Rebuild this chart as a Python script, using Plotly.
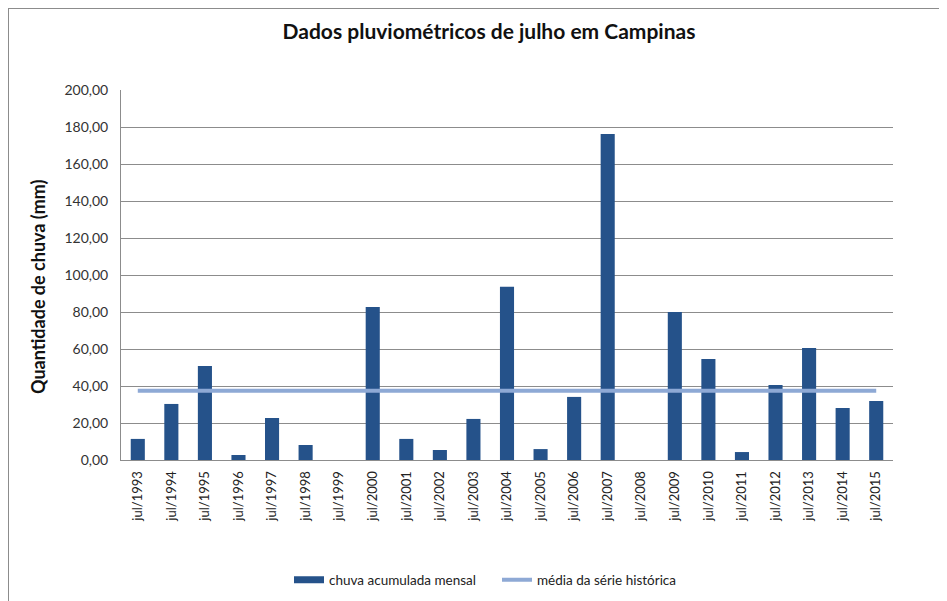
import plotly.graph_objects as go

meses = ["jul/1993", "jul/1994", "jul/1995", "jul/1996", "jul/1997", "jul/1998",
         "jul/1999", "jul/2000", "jul/2001", "jul/2002", "jul/2003", "jul/2004",
         "jul/2005", "jul/2006", "jul/2007", "jul/2008", "jul/2009", "jul/2010",
         "jul/2011", "jul/2012", "jul/2013", "jul/2014", "jul/2015"]
chuva = [11.4, 30.3, 50.8, 2.7, 22.7, 8.1, 0.0, 82.7, 11.4, 5.4, 22.2, 93.6,
         5.9, 34.1, 176.2, 0.0, 80.0, 54.6, 4.3, 40.5, 60.5, 28.1, 31.9]
media_historica = 37.5
media = [media_historica for _ in meses]

FONT = "Lato, 'Open Sans', sans-serif"
BAR_COLOR = "#25528A"
LINE_COLOR = "#8EA9D5"

W, H = 939, 593
L, R, T, B = 113, 54, 82, 141
PW, PH = W - L - R, H - T - B
OFF = 8  # page offset of the figure


def px_x(page_x):
    return (page_x - OFF - L) / PW


def px_y(page_y):
    return (H - B - (page_y - OFF)) / PH


fig = go.Figure()
fig.add_trace(go.Bar(
    x=meses, y=chuva, name="chuva acumulada mensal", showlegend=False,
    marker=dict(color=BAR_COLOR, line=dict(width=0)), width=0.42,
))
fig.add_trace(go.Scatter(
    x=meses, y=media, name="média da série histórica", mode="lines",
    line=dict(color=LINE_COLOR, width=4), showlegend=False,
))
# legend entries
fig.add_trace(go.Scatter(x=[None], y=[None], mode="lines", name="chuva acumulada mensal",
                         line=dict(color=BAR_COLOR, width=7)))
fig.add_trace(go.Scatter(x=[None], y=[None], mode="lines", name="média da série histórica",
                         line=dict(color=LINE_COLOR, width=4)))

fig.update_layout(
    width=W, height=H,
    margin=dict(l=L, r=R, t=T, b=B, autoexpand=False),
    paper_bgcolor="white", plot_bgcolor="white",
    font=dict(family=FONT, color="#222", size=13),
    title=dict(text="<b>Dados pluviométricos de julho em Campinas</b>",
               x=(489 - OFF) / W, xanchor="center", y=1 - (32 - OFF) / H, yanchor="middle",
               font=dict(size=21, family=FONT, color="#111")),
    separators=",.",
    showlegend=True,
    legend=dict(orientation="h", x=px_x(289), xanchor="left",
                y=px_y(580), yanchor="middle",
                font=dict(size=13.5, color="#222"), entrywidth=163,
                bgcolor="rgba(0,0,0,0)"),
)
fig.update_yaxes(range=[0, 200], dtick=20, tickformat=".2f",
                 showgrid=True, gridcolor="#8c8c8c", gridwidth=1,
                 showline=True, linecolor="#8c8c8c", linewidth=1,
                 ticks="", tickfont=dict(size=14, color="#333"), zeroline=False,
                 ticklabelstandoff=9, automargin=False)
fig.update_xaxes(showline=True, linecolor="#8c8c8c", linewidth=1,
                 tickangle=-90, tickfont=dict(size=13, color="#222"), ticks="",
                 ticklabelstandoff=5, automargin=False,
                 range=[-0.5, len(meses) - 0.5])

fig.add_annotation(text="<b>Quantidade de chuva (mm)</b>", textangle=-90,
                   x=px_x(38), xref="paper", y=px_y(287), yref="paper",
                   xanchor="center", yanchor="middle", showarrow=False,
                   font=dict(size=18, family=FONT, color="#111"))

# chart frame border (top and left)
fig.add_shape(type="line", xref="paper", yref="paper",
              x0=(0.5 - L) / PW, x1=(W - L) / PW,
              y0=(H - B - 0.5) / PH, y1=(H - B - 0.5) / PH,
              line=dict(color="#8c8c8c", width=1))
fig.add_shape(type="line", xref="paper", yref="paper",
              x0=(0.5 - L) / PW, x1=(0.5 - L) / PW,
              y0=(H - B) / PH, y1=-B / PH,
              line=dict(color="#8c8c8c", width=1))

fig.write_html("out.html")
